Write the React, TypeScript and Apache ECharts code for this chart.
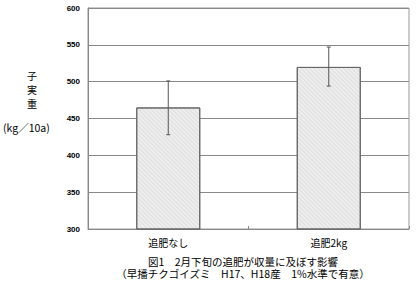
import React, { useEffect, useRef } from "react";
import * as echarts from "echarts";

const categories = ["追肥なし", "追肥2kg"];
const means = [465, 520];
const errLow = [428, 494];
const errHigh = [501, 547];
const yMin = 300;
const yMax = 600;
const yInterval = 50;
const titleLine1 = "図1　2月下旬の追肥が収量に及ぼす影響";
const titleLine2 = "（早播チクゴイズミ　H17、H18産　1%水準で有意）";

export default function App() {
  const ref = useRef<HTMLDivElement>(null);
  useEffect(() => {
    const chart = echarts.init(ref.current!, null, { renderer: "svg" });
    const font = "'Noto Sans CJK JP', sans-serif";
    chart.setOption({
      animation: false,
      backgroundColor: "#ffffff",
      grid: { left: 88, right: 10, top: 8, bottom: 55, containLabel: false },
      xAxis: {
        type: "category",
        data: categories,
        axisLine: { show: true, lineStyle: { color: "#888", width: 1 } },
        axisTick: { show: true, inside: true, length: 3, lineStyle: { color: "#888" } },
        axisLabel: { color: "#000", fontSize: 10, fontFamily: font, margin: 8 },
      },
      yAxis: {
        type: "value",
        min: yMin,
        max: yMax,
        interval: yInterval,
        axisLine: { show: true, lineStyle: { color: "#888", width: 1 } },
        axisTick: { show: false },
        axisLabel: { color: "#000", fontSize: 8, fontFamily: "'Liberation Sans', sans-serif", fontWeight: "bold", margin: 8 },
        splitLine: { show: true, lineStyle: { color: "#888", width: 1 } },
      },
      graphic: [
        { type: "rect", shape: { x: 88, y: 8, width: 321, height: 221 }, style: { fill: "none", stroke: "#999", lineWidth: 1 }, silent: true, z: 0 },
        { type: "text", left: 27, top: 68, style: { text: "子\n実\n重", fontSize: 10, fontFamily: font, fill: "#000", lineHeight: 14 } },
        { type: "text", left: 3, top: 122, style: { text: "(kg／10a)", fontSize: 10.5, fontFamily: font, fill: "#000" } },
        {
          type: "text",
          style: {
            x: 243,
            y: 256,
            text: titleLine1 + "\n" + titleLine2,
            fontSize: 10.5,
            lineHeight: 11.5,
            align: "center",
            verticalAlign: "top",
            fontFamily: font,
            fill: "#000",
          },
        },
      ],
      series: [
        {
          type: "bar",
          data: means,
          barWidth: 64,
          itemStyle: {
            color: "#eeeeee",
            borderColor: "#666",
            borderWidth: 1,
            decal: {
              symbol: "rect",
              dashArrayX: [1, 0],
              dashArrayY: [1, 2],
              rotation: Math.PI / 4,
              color: "rgba(0,0,0,0.07)",
            },
          },
          z: 2,
        },
        {
          type: "custom",
          data: categories.map((_, i) => [i, errLow[i], errHigh[i]]),
          z: 5,
          renderItem: (params: any, api: any) => {
            const x = api.value(0);
            const lo = api.coord([x, api.value(1)]);
            const hi = api.coord([x, api.value(2)]);
            const cap = 2;
            const style = { stroke: "#555", lineWidth: 1 };
            return {
              type: "group",
              children: [
                { type: "line", shape: { x1: hi[0], y1: hi[1], x2: lo[0], y2: lo[1] }, style },
                { type: "line", shape: { x1: hi[0] - cap, y1: hi[1], x2: hi[0] + cap, y2: hi[1] }, style },
                { type: "line", shape: { x1: lo[0] - cap, y1: lo[1], x2: lo[0] + cap, y2: lo[1] }, style },
              ],
            };
          },
        },
      ],
    });
    return () => chart.dispose();
  }, []);
  return <div ref={ref} style={{ position: "fixed", left: 0, top: 0, width: 419, height: 284 }} />;
}
